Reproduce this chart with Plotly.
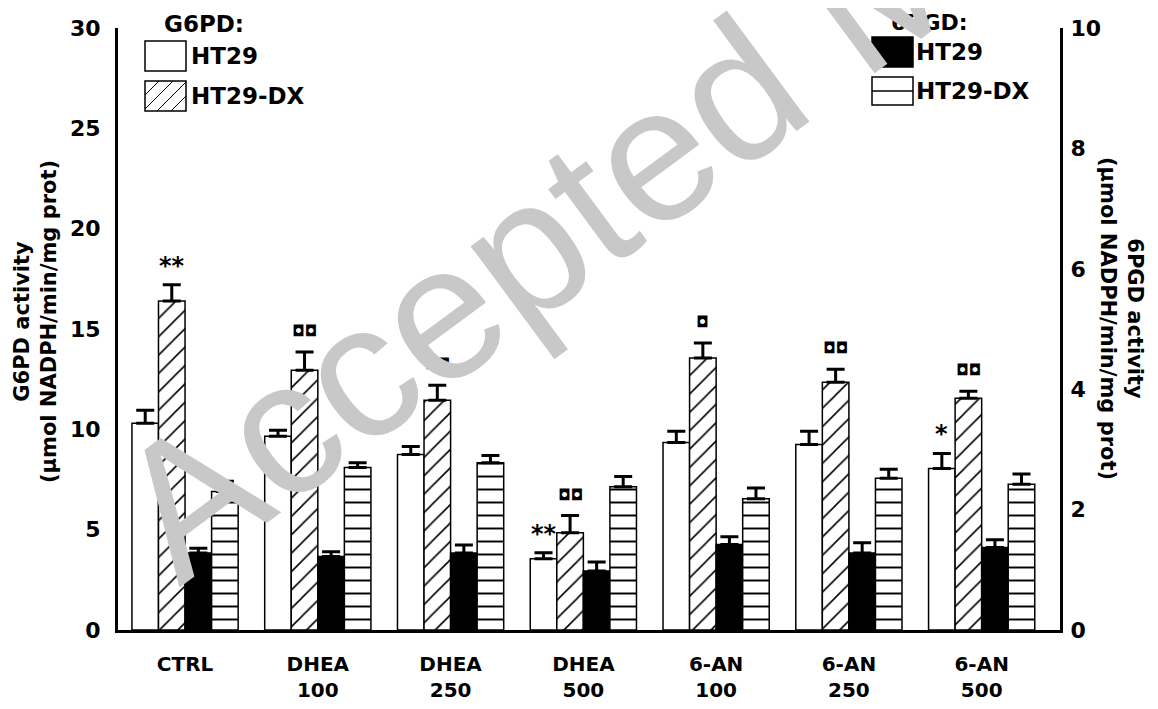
import plotly.graph_objects as go

# treatments on the x axis
groups = ["CTRL", "DHEA<br>100", "DHEA<br>250", "DHEA<br>500", "6-AN<br>100", "6-AN<br>250", "6-AN<br>500"]

# G6PD activity (left axis), mean and SE
g6pd_ht29 = [10.3, 9.65, 8.75, 3.55, 9.35, 9.25, 8.05]
g6pd_ht29_err = [0.65, 0.3, 0.4, 0.3, 0.55, 0.65, 0.75]
g6pd_dx = [16.4, 12.95, 11.45, 4.85, 13.55, 12.35, 11.55]
g6pd_dx_err = [0.8, 0.9, 0.75, 0.85, 0.75, 0.65, 0.35]

# 6PGD activity (right axis), mean and SE
pgd_ht29 = [1.28, 1.22, 1.28, 0.98, 1.42, 1.28, 1.37]
pgd_ht29_err = [0.08, 0.08, 0.13, 0.15, 0.13, 0.17, 0.13]
pgd_dx = [2.3, 2.7, 2.78, 2.38, 2.18, 2.52, 2.42]
pgd_dx_err = [0.17, 0.08, 0.12, 0.17, 0.18, 0.15, 0.17]

# significance marks on the G6PD bars: group, series (0 = HT29, 1 = HT29-DX), text
sig_group = [0, 1, 2, 3, 3, 4, 5, 6, 6]
sig_series = [1, 1, 1, 0, 1, 1, 1, 1, 0]
sig_text = ["**", "◘◘", "◘◘", "**", "◘◘", "◘", "◘◘", "◘◘", "*"]

# the page body keeps its 8px margin, so the figure is 16px smaller than the window
W, H = 1142, 693
ML, MR, MT, MB = 110, 90, 20, 71
FONT = "DejaVu Sans, Arial, sans-serif"

# plot area in window pixels, used to place legend and titles
PL, PR, PT, PB = 118, 1060, 28, 630


def px(x):
    return (x - PL) / (PR - PL)


def py(y):
    return (PB - y) / (PB - PT)


xs = list(range(len(groups)))
bw = 0.2


def err(vals):
    return dict(type="data", array=vals, arrayminus=[0] * len(vals), symmetric=False,
                color="black", thickness=3, width=9)


fig = go.Figure()
fig.add_trace(go.Bar(x=xs, y=g6pd_ht29, width=bw, offset=-2 * bw, name="G6PD HT29",
                     marker=dict(color="white", line=dict(color="black", width=1.5)),
                     error_y=err(g6pd_ht29_err)))
fig.add_trace(go.Bar(x=xs, y=g6pd_dx, width=bw, offset=-bw, name="G6PD HT29-DX",
                     marker=dict(color="white", line=dict(color="black", width=1.5),
                                 pattern=dict(shape="/", size=13, solidity=0.12, fgcolor="black",
                                              bgcolor="white", fillmode="replace")),
                     error_y=err(g6pd_dx_err)))
fig.add_trace(go.Bar(x=xs, y=pgd_ht29, width=bw, offset=0, name="6PGD HT29", yaxis="y2",
                     marker=dict(color="black", line=dict(color="black", width=1.5)),
                     error_y=err(pgd_ht29_err)))
fig.add_trace(go.Bar(x=xs, y=pgd_dx, width=bw, offset=bw, name="6PGD HT29-DX", yaxis="y2",
                     marker=dict(color="white", line=dict(color="black", width=1.5),
                                 pattern=dict(shape="-", size=13, solidity=0.15, fgcolor="black",
                                              bgcolor="white", fillmode="replace")),
                     error_y=err(pgd_dx_err)))

annotations = []
for g, s, t in zip(sig_group, sig_series, sig_text):
    if s == 0:
        top = g6pd_ht29[g] + g6pd_ht29_err[g]
    else:
        top = g6pd_dx[g] + g6pd_dx_err[g]
    star = "*" in t
    annotations.append(dict(x=g + (s - 1.5) * bw, y=top, xref="x", yref="y", text=t,
                            showarrow=False, xanchor="center", yanchor="bottom",
                            yshift=(3 if star else 10),
                            font=dict(family=FONT, size=(24 if star else 15), color="black",
                                      weight="bold")))

# axis titles
title_font = dict(family=FONT, size=21, color="black", weight="bold")
annotations.append(dict(x=px(35), y=py(322), xref="paper", yref="paper", showarrow=False,
                        xanchor="center", yanchor="middle",
                        text="G6PD activity<br>(µmol NADPH/min/mg prot)", textangle=-90,
                        font=title_font))
annotations.append(dict(x=px(1122), y=py(318), xref="paper", yref="paper", showarrow=False,
                        xanchor="center", yanchor="middle",
                        text="6PGD activity<br>(µmol NADPH/min/mg prot)", textangle=90,
                        font=title_font))

# hand-drawn legends
leg_font = dict(family=FONT, size=23, color="black", weight="bold")
shapes = []


def box(x0, y0, x1, y1, fill="white"):
    shapes.append(dict(type="rect", xref="paper", yref="paper", x0=px(x0), x1=px(x1),
                       y0=py(y1), y1=py(y0), fillcolor=fill,
                       line=dict(color="black", width=1.5), layer="above"))


def seg(xa, ya, xb, yb, w=1):
    shapes.append(dict(type="line", xref="paper", yref="paper", x0=px(xa), y0=py(ya),
                       x1=px(xb), y1=py(yb), line=dict(color="black", width=w), layer="above"))


def label(x, y, text, anchor="left", size=23):
    annotations.append(dict(x=px(x), y=py(y), xref="paper", yref="paper", text=text,
                            showarrow=False, xanchor=anchor, yanchor="middle",
                            font=dict(leg_font, size=size)))


label(204, 24, "G6PD:", "center")
box(145, 41, 186, 71)
label(189, 56, "HT29")
box(145, 81, 186, 111)
for c in range(145 + 81 + 14, 186 + 111, 14):
    xa = max(145, c - 111)
    xb = min(186, c - 81)
    if xb > xa:
        seg(xa, c - xa, xb, c - xb)
label(189, 96, "HT29-DX")

label(929, 22, "6PGD:", "center", size=22)
box(872, 37, 913, 67, fill="black")
label(914, 52, "HT29")
box(872, 77, 913, 105)
seg(872, 91, 913, 91, 1.5)
label(914, 91, "HT29-DX")

# watermark of the accepted manuscript
annotations.append(dict(x=px(857), y=py(4), xref="paper", yref="paper", showarrow=False,
                        xanchor="center", yanchor="middle",
                        text="Accepted Manuscript", textangle=-36.5,
                        font=dict(family="Liberation Sans, Arial, sans-serif", size=191,
                                  color="#c8c8c8")))

tick_font = dict(family=FONT, size=22, color="black", weight="bold")
fig.update_layout(
    width=W, height=H,
    margin=dict(l=ML, r=MR, t=MT, b=MB),
    plot_bgcolor="white", paper_bgcolor="white",
    barmode="overlay", showlegend=False,
    xaxis=dict(range=[-0.505, 6.59], tickvals=xs, ticktext=groups, showline=True,
               linewidth=3, linecolor="black", showgrid=False, zeroline=False, ticks="",
               tickfont=dict(family=FONT, size=20, color="black", weight="bold"),
               ticklabelstandoff=14, automargin=False),
    yaxis=dict(range=[0, 30], tickvals=[0, 5, 10, 15, 20, 25, 30], showline=True,
               linewidth=3, linecolor="black", showgrid=False, zeroline=False, ticks="",
               tickfont=tick_font, ticklabelstandoff=10, automargin=False),
    yaxis2=dict(range=[0, 10], tickvals=[0, 2, 4, 6, 8, 10], overlaying="y", side="right",
                showline=True, linewidth=3, linecolor="black", showgrid=False,
                zeroline=False, ticks="", tickfont=tick_font, ticklabelstandoff=3,
                automargin=False),
    annotations=annotations,
    shapes=shapes,
)

fig.write_html("out.html")
